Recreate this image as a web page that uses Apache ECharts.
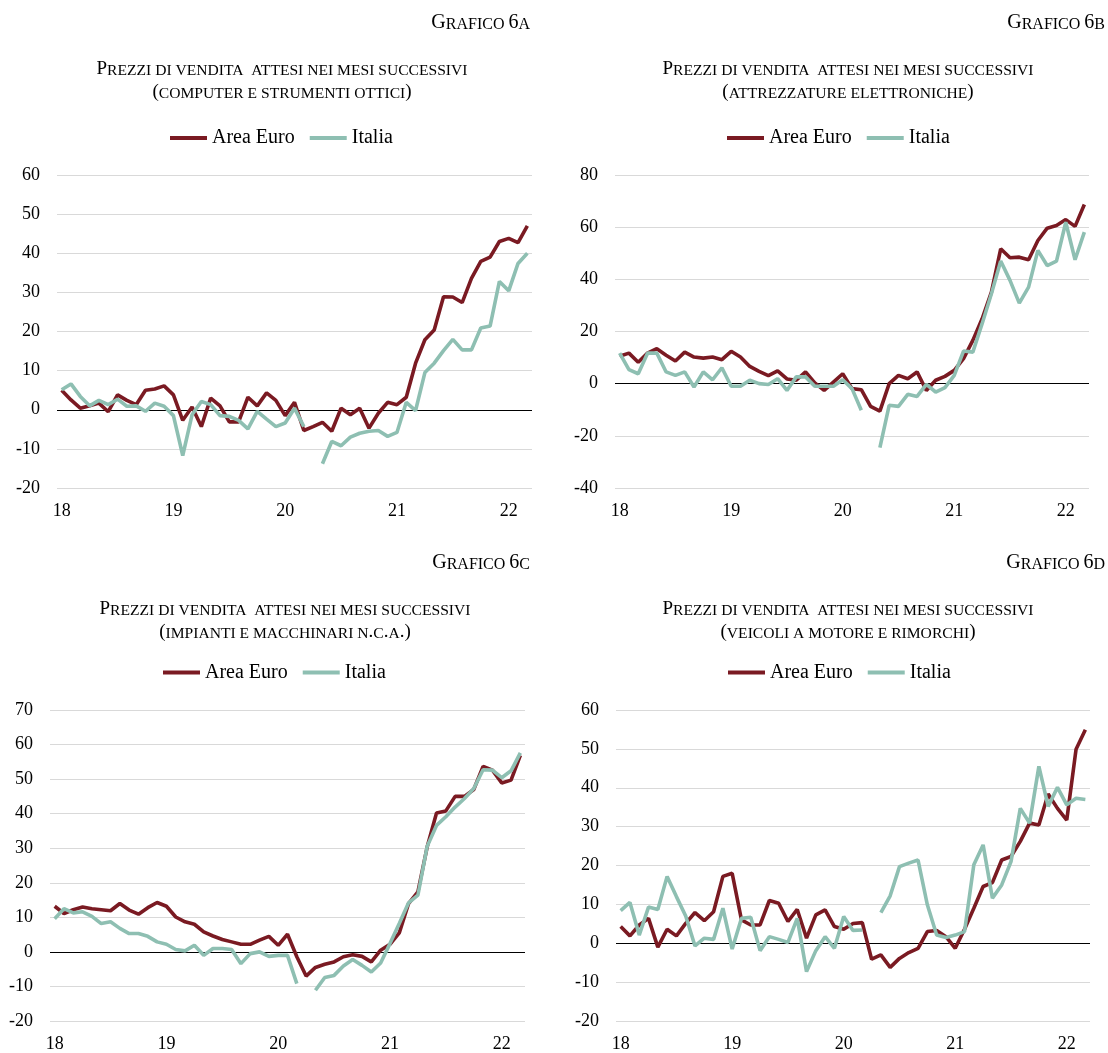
<!DOCTYPE html>
<html>
<head>
<meta charset="utf-8">
<script src="https://cdn.jsdelivr.net/npm/echarts@6/dist/echarts.min.js"></script>
<style>
  html, body { margin: 0; background: #fff; }
  #grafico { width: 1108px; height: 1053px; }
</style>
</head>
<body>
<div id="grafico"></div>
<script>
// mesi da gennaio 2018 a marzo 2022
const mesi = [];
for (let a = 2018; a <= 2022; a++) {
    for (let m = 1; m <= 12; m++) {
        if (a === 2022 && m > 3) break;
        mesi.push(a + '-' + (m < 10 ? '0' : '') + m);
    }
}

// etichette asse y
const tick_a = { min: -20, max: 60, interval: 10 };
const tick_b = { min: -40, max: 80, interval: 20 };
const tick_c = { min: -20, max: 70, interval: 10 };
const tick_d = { min: -20, max: 60, interval: 10 };

// 6a computer e strumenti ottici
const euro_a = [5, 2.5, 0.4, 1, 1.7, -0.5, 3.8, 2.4, 1.3, 5, 5.3, 6.1,
    3.8, -2.7, 0.7, -4.3, 3, 1, -3.1, -3.1, 3.2, 1, 4.3, 2.4,
    -1.5, 1.9, -5.3, -4.3, -3.2, -5.5, 0.4, -1.3, 0.4, -4.7, -0.9, 1.9,
    1.3, 3.2, 11.9, 17.9, 20.4, 28.9, 28.8, 27.4, 33.6, 37.9, 39, 43,
    43.8, 42.7, 47];
const italia_a = [5.1, 6.6, 3.4, 1, 2.4, 1.3, 2.7, 0.9, 1, -0.4, 1.7, 0.9,
    -1.5, -11.7, -1.3, 2.1, 1.3, -1.5, -1.7, -2.7, -4.9, -0.4, -2.4, -4.3,
    -3.4, 0.4, -4.3, null, -13.8, -8.1, -9.2, -7, -6, -5.5, -5.3, -6.8,
    -5.8, 1.9, -0.2, 9.5, 11.9, 15.1, 18, 15.3, 15.3, 20.9, 21.4, 32.8,
    30.4, 37.4, 40];

// 6b attrezzature elettroniche
const euro_b = [10.5, 11.7, 8.2, 11.7, 13.4, 10.9, 8.7, 12.1, 10.2, 9.8, 10.2, 9.2,
    12.4, 10.2, 6.6, 4.7, 3.1, 4.9, 1.8, 1.3, 4.5, 0.3, -2.6, 0.6,
    3.8, -1.9, -2.3, -8.7, -10.5, 0, 3.2, 1.9, 4.5, -2.6, 1.3, 2.8,
    5.1, 9.6, 16.6, 24.9, 35.1, 51.7, 48.3, 48.5, 47.5, 54.9, 59.6, 60.6,
    62.9, 60.3, 68.7];
const italia_b = [11.7, 5.4, 3.8, 11.7, 11.7, 4.5, 3.2, 4.5, -1.3, 4.5, 1.5, 6.1,
    -1, -1, 1.3, 0, -0.3, 1.9, -2.6, 2.6, 2.6, -1, -1, -1,
    1.5, -1.9, -10.2, null, -24.5, -8.3, -8.7, -4.1, -4.9, -0.3, -3.2, -1.5,
    3.2, 12.5, 12.1, 23, 34.5, 47, 39.6, 30.9, 37, 51.1, 45.3, 47,
    61.9, 47.5, 58.1];

// 6c impianti e macchinari
const euro_c = [13.2, 11.1, 12.2, 13, 12.5, 12.2, 11.9, 14, 12.1, 10.9, 12.8, 14.3,
    13.2, 10.1, 8.7, 8, 5.8, 4.6, 3.6, 2.9, 2.2, 2.2, 3.4, 4.5,
    1.9, 5.1, -1.4, -7, -4.5, -3.6, -2.9, -1.4, -0.8, -1.3, -2.9, 0.5,
    2.2, 5.5, 14, 17.4, 30.4, 40.2, 40.8, 45, 45, 47, 53.7, 52.6,
    48.9, 49.7, 56.9];
const italia_c = [9.6, 12.5, 11.3, 11.6, 10.3, 8.2, 8.7, 6.8, 5.3, 5.3, 4.5, 2.9,
    2.2, 0.7, 0.3, 1.9, -1, 1, 1, 0.7, -3.4, -0.5, 0, -1.3,
    -1, -1, -9.2, null, -11.1, -7.4, -6.8, -4.1, -2.2, -3.9, -5.8, -3.2,
    2.4, 8.2, 14.2, 16.4, 30.6, 36.6, 39.1, 41.9, 44.4, 47.3, 52.7, 52.6,
    50.4, 52.4, 57.6];

// 6d veicoli a motore e rimorchi
const euro_d = [4.3, 1.9, 4.7, 6.4, -1, 3.6, 1.9, 5.1, 7.9, 5.8, 8.1, 17.2,
    18, 6, 4.7, 4.7, 11, 10.3, 5.6, 8.7, 1.3, 7.3, 8.6, 4.3,
    3.6, 5.1, 5.3, -4.1, -3, -6.2, -3.9, -2.4, -1.3, 3, 3.3, 1.7,
    -1.3, 3.6, 9, 14.6, 15.6, 21.4, 22.3, 26.2, 30.9, 30.4, 38.4, 34.7,
    31.7, 49.9, 54.9];
const italia_d = [8.4, 10.5, 2.1, 9.3, 8.7, 17.2, 12, 7, -0.7, 1.3, 1, 9,
    -1.5, 6.4, 6.7, -1.9, 1.7, 1, 0.2, 6.4, -7.3, -1.9, 1.7, -1.3,
    6.9, 3.3, 3.4, null, 7.9, 12.2, 19.7, 20.6, 21.4, 9.9, 2.1, 1.5,
    2.1, 3, 20.2, 25.3, 11.6, 15, 21, 34.7, 30.9, 45.5, 35.2, 40.1,
    35.6, 37.3, 37];

const titolo = 'Prezzi di vendita  attesi nei mesi successivi';

const pannelli = [
    { numero: 'Grafico 6a', sotto: '(computer e strumenti ottici)', euro: euro_a, italia: italia_a, tick: tick_a,
      grid: { left: 57, top: 175, width: 475, height: 313 }, destra: 530, centro: 282, su: 0, legenda: 170 },
    { numero: 'Grafico 6b', sotto: '(attrezzature elettroniche)', euro: euro_b, italia: italia_b, tick: tick_b,
      grid: { left: 615, top: 175, width: 474, height: 313 }, destra: 1105, centro: 848, su: 0, legenda: 727 },
    { numero: 'Grafico 6c', sotto: '(impianti e macchinari n.c.a.)', euro: euro_c, italia: italia_c, tick: tick_c,
      grid: { left: 50, top: 710, width: 475, height: 311 }, destra: 530, centro: 285, su: 540, legenda: 163 },
    { numero: 'Grafico 6d', sotto: '(veicoli a motore e rimorchi)', euro: euro_d, italia: italia_d, tick: tick_d,
      grid: { left: 616, top: 710, width: 474, height: 311 }, destra: 1105, centro: 848, su: 540, legenda: 728 }
];

const font = 'Liberation Serif';
const rosso = '#7a1a22';
const verde = '#8ebfb2';

// maiuscoletto: minuscole -> maiuscole piccole
function maiuscoletto(testo) {
    let out = '', buf = '', stile = null;
    for (const ch of testo) {
        let s = ch !== ch.toUpperCase() ? 's' : 'b';
        if (ch === ' ') s = stile || 's';
        if (s !== stile && buf) { out += '{' + stile + '|' + buf + '}'; buf = ''; }
        stile = s;
        buf += s === 's' ? ch.toUpperCase() : ch;
    }
    if (buf) out += '{' + stile + '|' + buf + '}';
    return out;
}

function testo(x, y, str, allinea, grande, piccolo) {
    return {
        type: 'text', x: x, y: y, silent: true,
        style: {
            text: maiuscoletto(str),
            align: allinea, verticalAlign: 'middle',
            rich: {
                b: { fontFamily: font, fontSize: grande, fill: '#000', color: '#000', verticalAlign: 'bottom' },
                s: { fontFamily: font, fontSize: piccolo, fill: '#000', color: '#000', verticalAlign: 'bottom' }
            }
        }
    };
}

let option = {
    animation: false,
    backgroundColor: '#fff',
    grid: [], xAxis: [], yAxis: [], series: [], legend: [], graphic: []
};

pannelli.map((p, i) => {
    option.grid.push(Object.assign({ containLabel: false }, p.grid));

    option.xAxis.push({
        gridIndex: i, type: 'category', data: mesi, boundaryGap: true,
        axisLine: { show: false, onZero: false }, axisTick: { show: false }, splitLine: { show: false },
        axisLabel: {
            interval: (idx) => idx % 12 === 0,
            formatter: (v) => v.slice(2, 4),
            fontFamily: font, fontSize: 18, color: '#000', margin: 14
        }
    });

    option.yAxis.push({
        gridIndex: i, type: 'value',
        min: p.tick.min, max: p.tick.max, interval: p.tick.interval,
        axisLine: { show: false }, axisTick: { show: false },
        splitLine: { show: true, lineStyle: { color: '#d9d9d9', width: 1 } },
        axisLabel: { fontFamily: font, fontSize: 18, color: '#000', margin: 17 }
    });

    option.series.push({
        name: 'Area Euro', type: 'line', xAxisIndex: i, yAxisIndex: i,
        data: p.euro, showSymbol: false, symbol: 'none', connectNulls: false,
        lineStyle: { color: rosso, width: 3.6 }, itemStyle: { color: rosso },
        // linea dello zero
        markLine: {
            silent: true, z: 1, symbol: ['none', 'none'], label: { show: false },
            lineStyle: { color: '#000', width: 1, type: 'solid' },
            emphasis: { disabled: true },
            data: [{ yAxis: 0 }]
        }
    });
    option.series.push({
        name: 'Italia', type: 'line', xAxisIndex: i, yAxisIndex: i,
        data: p.italia, showSymbol: false, symbol: 'none', connectNulls: false,
        lineStyle: { color: verde, width: 3.6 }, itemStyle: { color: verde }
    });

    option.legend.push({
        data: ['Area Euro', 'Italia'], left: p.legenda, top: 128 + p.su * 0.99,
        orient: 'horizontal', padding: 0, itemGap: 15,
        icon: 'rect', itemWidth: 37, itemHeight: 4,
        textStyle: { fontFamily: font, fontSize: 20, color: '#000' }
    });

    option.graphic.push(testo(p.destra, 22.5 + p.su, p.numero, 'right', 20, 16));
    option.graphic.push(testo(p.centro, 69 + p.su, titolo, 'center', 19, 15.6));
    option.graphic.push(testo(p.centro, 92 + p.su, p.sotto, 'center', 19, 15.6));
});

let grafico = echarts.init(document.querySelector('#grafico'));
grafico.setOption(option);
</script>
</body>
</html>
